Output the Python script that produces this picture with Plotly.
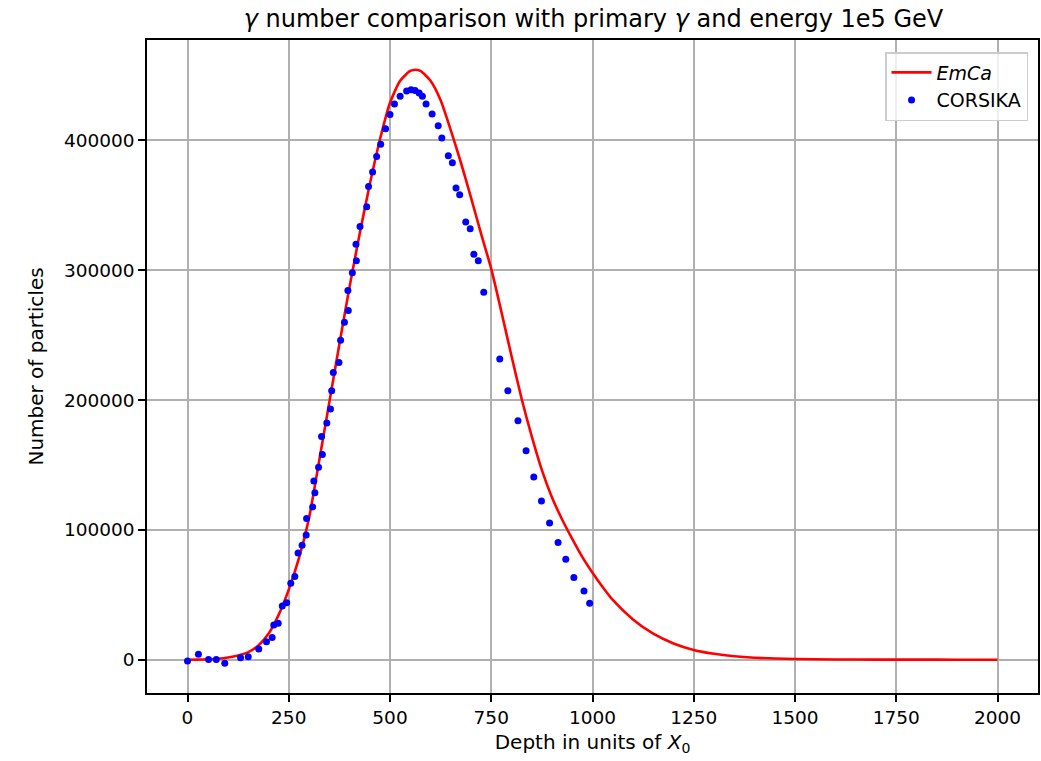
import plotly.graph_objects as go

# EmCa curve
emca_x = [0, 25, 50, 75, 100, 125, 150, 175, 200, 225, 250, 275, 300, 325, 350, 375,
          400, 425, 450, 475, 500, 525, 550, 562, 575, 600, 625, 650, 675, 700, 725,
          750, 775, 800, 825, 850, 875, 900, 925, 950, 975, 1000, 1025, 1050, 1100,
          1150, 1200, 1250, 1300, 1350, 1400, 1500, 1600, 1700, 1800, 1900, 2000]
emca_y = [0, 50, 250, 700, 1700, 3300, 5800, 11000, 20000, 34500, 54000, 78000, 109000,
          153000, 198000, 243000, 287000, 328000, 366000, 400500, 429000, 446000, 453500,
          454500, 453500, 446000, 431000, 408000, 383000, 356000, 328000, 301000, 268000,
          234000, 201000, 172000, 146000, 125000, 108000, 93000, 79000, 67000, 56000,
          46000, 31000, 20000, 12500, 7500, 4500, 2600, 1500, 500, 150, 50, 15, 5, 0]

# CORSIKA points
cors_x = [0, 27, 52, 71, 92, 131, 150, 176, 195, 209, 213, 224, 234, 245, 255, 265, 273,
          283, 293, 294, 309, 314.5, 312, 323.6, 333, 331, 344, 353, 356, 360, 374, 378,
          387.5, 397, 396, 407, 417, 416, 426, 442.5, 447, 457, 467, 477, 489, 500, 511,
          525, 541, 552, 562, 572, 580, 589, 604, 619, 628, 644, 654, 663, 672, 687, 698,
          707, 718, 731.5, 771, 791, 816, 836, 855, 874, 894, 915, 934, 954, 979, 993]
cors_y = [-1000, 4100, 200, 200, -2800, 1500, 2300, 8200, 13900, 17000, 26700, 28000,
          41400, 43900, 58800, 64000, 82200, 88100, 96100, 108700, 117700, 128500, 137700,
          148200, 158000, 171900, 182400, 193200, 207100, 221200, 228900, 246100, 260000,
          269000, 284300, 298000, 307300, 320000, 333700, 349000, 364600, 375600, 387700,
          397000, 409000, 420000, 428000, 434000, 438000, 439000, 438500, 436500, 434000,
          428000, 420300, 411300, 401800, 388200, 382800, 363300, 358100, 337100, 332000,
          312400, 307300, 283100, 231700, 207100, 184000, 161000, 140800, 122300, 105300,
          90200, 77300, 63400, 52900, 43400]

x_ticks = [0, 250, 500, 750, 1000, 1250, 1500, 1750, 2000]
y_ticks = [0, 100000, 200000, 300000, 400000]

FONT = "DejaVu Sans"
FS = 20
TFS = 18.5

fig = go.Figure()
fig.add_trace(go.Scatter(x=emca_x, y=emca_y, mode="lines", name="<i>EmCa</i>",
                         line=dict(color="red", width=2.6, shape="spline", smoothing=0.6)))
fig.add_trace(go.Scatter(x=cors_x, y=cors_y, mode="markers", name="CORSIKA",
                         marker=dict(color="blue", size=7, line=dict(width=0))))

axis_common = dict(showline=True, linecolor="black", linewidth=1.5, mirror=True,
                   ticks="outside", ticklen=7, tickcolor="black", tickwidth=1.5,
                   showgrid=True, gridcolor="#b0b0b0", gridwidth=1.5, zeroline=False,
                   tickfont=dict(family=FONT, size=TFS, color="black"))

fig.update_layout(
    width=1041, height=761,
    margin=dict(l=147, r=1, t=40, b=68),
    paper_bgcolor="white", plot_bgcolor="white",
    font=dict(family=FONT, size=FS, color="black"),
    title=dict(text="<i>γ</i> number comparison with primary <i>γ</i> and energy 1e5 GeV",
               x=0.5701, xanchor="center", y=0.976, yanchor="middle",
               font=dict(family=FONT, size=24, color="black")),
    legend=dict(x=0.9888, y=0.9816, xanchor="right", yanchor="top",
                bgcolor="rgba(255,255,255,0.8)", bordercolor="#cccccc", borderwidth=1.5,
                font=dict(family=FONT, size=19, color="black"), itemwidth=40),
    showlegend=True,
)
fig.update_xaxes(range=[-100, 2100], tickvals=x_ticks,
                 ticktext=[str(v) for v in x_ticks],
                 title=dict(text="Depth in units of <i>X</i><sub>0</sub>",
                            font=dict(family=FONT, size=FS, color="black"), standoff=8),
                 **axis_common)
fig.update_yaxes(range=[-25665, 477365], tickvals=y_ticks,
                 ticktext=[str(v) for v in y_ticks],
                 title=dict(text="Number of particles",
                            font=dict(family=FONT, size=FS, color="black"), standoff=15),
                 **axis_common)

fig.write_html("out.html", include_plotlyjs=True,
               config={"displayModeBar": False},
               post_script="document.body.style.margin='0';document.body.style.overflow='hidden';")
